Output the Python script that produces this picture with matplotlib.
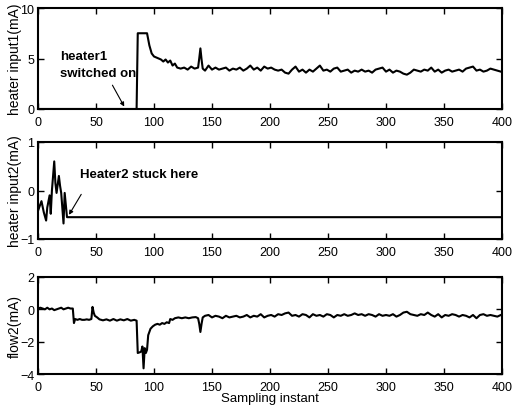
import numpy as np
import matplotlib
matplotlib.use("Agg")
import matplotlib.pyplot as plt

plt.rcParams['font.family'] = ['Liberation Sans', 'DejaVu Sans']

# ---- heater input1 ----
t1_head = [0, 85, 86, 94, 96, 97, 98, 100, 102, 104, 106, 108, 110, 112, 114, 116, 118,
           120, 123, 126, 129, 132, 135, 138, 139, 140, 141, 142, 144, 147]
y1_head = [0, 0, 7.5, 7.5, 6.3, 5.9, 5.5, 5.2, 5.1, 5.0, 4.9, 4.7, 4.9, 4.6, 4.8, 4.3, 4.5,
           4.1, 4.0, 4.1, 3.9, 4.2, 4.0, 4.1, 5.0, 6.0, 4.9, 4.0, 3.8, 4.3]
y1_tail = [3.9, 4.1, 3.9, 4.0, 4.1, 3.8, 4.0, 3.9, 4.1, 3.8, 4.0, 4.3, 3.9, 4.1, 3.8, 4.2, 4.0,
           4.1, 3.9, 3.8, 3.9, 3.6, 3.5, 3.9, 4.2, 3.7, 3.9, 3.6, 3.9, 3.7, 4.0, 4.3, 3.8,
           3.9, 3.7, 4.0, 4.1, 3.7, 3.8, 3.9, 3.6, 3.8, 3.7, 3.9, 3.7, 3.8, 3.6, 3.9, 4.0,
           4.1, 3.7, 3.9, 3.6, 3.8, 3.7, 3.5, 3.4, 3.6, 3.9, 3.8, 3.7, 3.9, 3.8, 4.1, 3.7,
           3.9, 3.6, 3.8, 3.9, 3.7, 3.8, 3.9, 3.7, 4.0, 4.1, 4.2, 3.8, 3.9, 3.7, 3.8, 4.0,
           3.9, 3.8, 3.7]

# ---- heater input2 ----
t2 = [0, 1, 3, 5, 7, 8, 10, 11, 12, 14, 15, 16, 18, 19, 20, 22, 23, 25, 26, 400]
y2 = [-0.42, -0.35, -0.22, -0.45, -0.62, -0.35, -0.1, -0.48, 0.0, 0.6, 0.15, -0.05, 0.3,
      0.1, -0.05, -0.68, -0.05, -0.55, -0.55, -0.55]

# ---- flow2 ----
t3_head = [0, 2, 4, 6, 8, 10, 12, 14, 16, 18, 20, 22, 24, 26, 28, 30, 31, 32, 34, 36, 38,
           40, 42, 44, 46, 47, 48, 49, 51, 53, 56, 59, 62, 65, 68, 71, 74, 77, 80, 83, 85,
           86, 88, 89, 90, 91, 92, 93, 94, 95, 97, 99, 101, 103, 105, 107, 109, 111, 113,
           114, 116, 118, 121, 124, 127, 130, 133, 136, 138, 139, 140, 141, 142, 144, 147]
y3_head = [0.05, 0.1, 0.05, 0.0, 0.1, 0.0, 0.05, -0.05, 0.0, 0.05, 0.1, 0.0, 0.05, 0.1, 0.05,
           0.05, -0.85, -0.6, -0.65, -0.6, -0.65, -0.65, -0.62, -0.65, -0.6, 0.15, -0.2,
           -0.4, -0.5, -0.62, -0.68, -0.62, -0.7, -0.6, -0.7, -0.62, -0.68, -0.6, -0.7,
           -0.65, -0.7, -2.7, -2.65, -2.6, -2.3, -3.65, -2.4, -2.7, -2.5, -1.6, -1.2, -1.05,
           -0.95, -0.9, -0.95, -0.85, -0.9, -0.8, -0.85, -0.6, -0.65, -0.55, -0.5, -0.55,
           -0.5, -0.55, -0.5, -0.48, -0.55, -0.9, -1.4, -0.9, -0.5, -0.4, -0.35]
y3_tail = [-0.5, -0.4, -0.45, -0.55, -0.4, -0.5, -0.45, -0.4, -0.5, -0.45, -0.35, -0.5,
           -0.4, -0.45, -0.3, -0.5, -0.4, -0.35, -0.45, -0.3, -0.35, -0.25, -0.2, -0.4,
           -0.35, -0.45, -0.3, -0.35, -0.5, -0.3, -0.4, -0.35, -0.45, -0.3, -0.35, -0.5,
           -0.35, -0.4, -0.3, -0.4, -0.35, -0.25, -0.35, -0.3, -0.4, -0.3, -0.35, -0.45,
           -0.3, -0.4, -0.35, -0.4, -0.3, -0.45, -0.35, -0.2, -0.15, -0.3, -0.35, -0.4,
           -0.3, -0.35, -0.2, -0.35, -0.45, -0.3, -0.5, -0.35, -0.4, -0.3, -0.35, -0.45,
           -0.35, -0.4, -0.5, -0.35, -0.55, -0.35, -0.3, -0.4, -0.35, -0.4, -0.45, -0.35]

x_ticks = [0, 50, 100, 150, 200, 250, 300, 350, 400]
ylabels = ["heater input1(mA)", "heater input2(mA)", "flow2(mA)"]
yticks = [[0, 5, 10], [-1, 0, 1], [-4, -2, 0, 2]]
ylims = [(0, 10), (-1, 1), (-4, 2)]

t1 = np.concatenate([t1_head, 150 + 3 * np.arange(len(y1_tail))])
y1 = np.concatenate([y1_head, y1_tail])
t3 = np.concatenate([t3_head, 150 + 3 * np.arange(len(y3_tail))])
y3 = np.concatenate([y3_head, y3_tail])

W, H = 513, 410
fig = plt.figure(figsize=(W / 100, H / 100), dpi=100)
boxes = [(38, 9, 502, 110), (38, 143, 502, 240), (38, 278, 502, 375)]
axes = []
for (l, t, r, b) in boxes:
    ax = fig.add_axes([l / W, 1 - b / H, (r - l) / W, (b - t) / H])
    axes.append(ax)

series = [(t1, y1), (t2, y2), (t3, y3)]
fs = 9
for i, ax in enumerate(axes):
    tx, ty = series[i]
    ax.plot(tx, ty, color='black', lw=1.5)
    ax.set_xlim(0, 400)
    ax.set_ylim(*ylims[i])
    ax.set_xticks(x_ticks)
    ax.set_yticks(yticks[i])
    ax.tick_params(direction='in', top=True, right=True, length=4, width=1,
                   labelsize=fs)
    ax.tick_params(axis='x', pad=5)
    ax.tick_params(axis='y', pad=2.5)
    for s in ax.spines.values():
        s.set_linewidth(1.5)
    ax.set_ylabel(ylabels[i], fontsize=10, va='center')
    ax.yaxis.set_label_coords(-0.05, 0.5)

axes[2].set_xlabel("Sampling instant", fontsize=9.5, va='center')
axes[2].xaxis.set_label_coords(0.5, -0.245)

afs = 9.5
axes[0].text(19, 5.25, "heater1", fontsize=afs, fontweight='bold', va='center', ha='left')
axes[0].text(19, 3.6, "switched on", fontsize=afs, fontweight='bold', va='center', ha='left')
axes[0].annotate("", xy=(75.5, 0), xytext=(63, 2.6),
                 arrowprops=dict(arrowstyle='-|>', color='black', lw=0.8,
                                 mutation_scale=6))
axes[1].text(36, 0.33, "Heater2 stuck here", fontsize=afs, fontweight='bold',
             va='center', ha='left')
axes[1].annotate("", xy=(25.5, -0.55), xytext=(38.5, -0.03),
                 arrowprops=dict(arrowstyle='-|>', color='black', lw=0.8,
                                 mutation_scale=6))

fig.savefig("out.png", dpi=100)
